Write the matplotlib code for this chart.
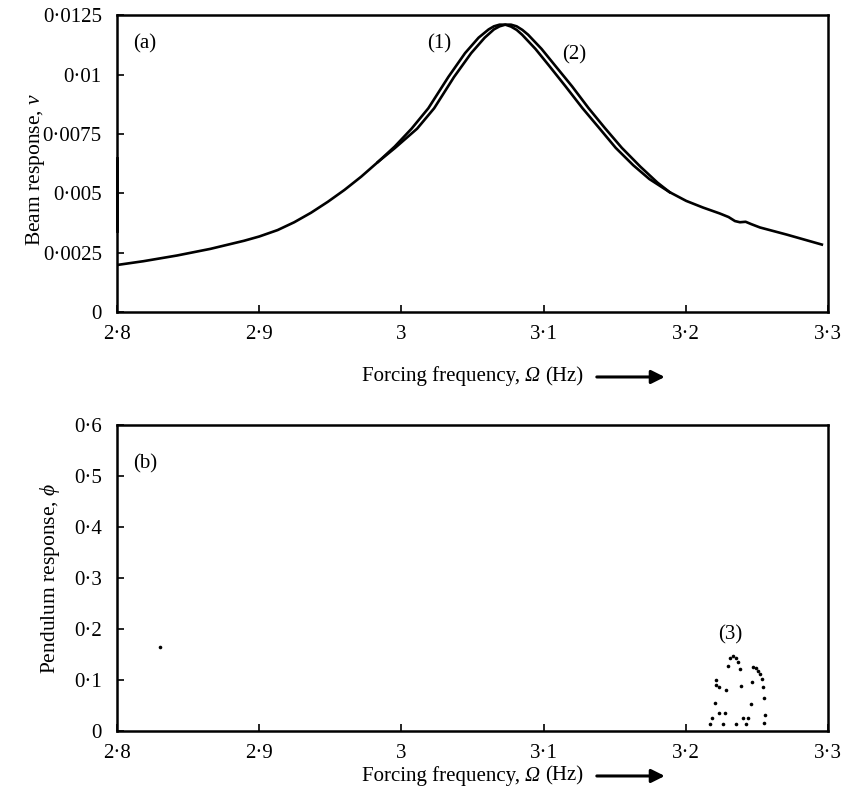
import numpy as np
import matplotlib
matplotlib.use('Agg')
import matplotlib.pyplot as plt
from matplotlib.offsetbox import TextArea, HPacker, AnchoredOffsetbox
from matplotlib.patches import FancyArrowPatch

plt.rcParams['font.family'] = ['Liberation Serif', 'DejaVu Serif']
plt.rcParams['mathtext.fontset'] = 'custom'
plt.rcParams['mathtext.rm'] = 'Liberation Serif'
plt.rcParams['mathtext.it'] = 'Liberation Serif:italic'

# curve (1): beam response, sweep one way
freq_1 = [2.800, 2.8186, 2.8422, 2.8657, 2.8893, 2.9000, 2.9129, 2.9246, 2.9364,
          2.9482, 2.9599, 2.9717, 2.9835, 2.9953, 3.0071, 3.0189, 3.0330, 3.0447,
          3.0542, 3.0613, 3.0650, 3.0690, 3.0730, 3.0770, 3.0810, 3.0848, 3.0942,
          3.1037, 3.1154, 3.1272, 3.1390, 3.1507, 3.1630, 3.1743, 3.1885, 3.2002,
          3.2120, 3.2238, 3.2300, 3.2345, 3.2380, 3.2420, 3.2460, 3.2521, 3.2709,
          3.2956]
resp_1 = [0.00198, 0.00214, 0.00238, 0.00266, 0.00300, 0.00318, 0.00345, 0.00378,
          0.00418, 0.00464, 0.00514, 0.00570, 0.00632, 0.00697, 0.00772, 0.00858,
          0.00990, 0.01090, 0.01155, 0.01190, 0.01203, 0.01210, 0.01210, 0.01202,
          0.01188, 0.01168, 0.01108, 0.01038, 0.00950, 0.00859, 0.00775, 0.00691,
          0.00618, 0.00560, 0.00505, 0.00468, 0.00440, 0.00415, 0.00400, 0.00383,
          0.00378, 0.00380, 0.00370, 0.00356, 0.00326, 0.00284]

# curve (2): other sweep, slightly shifted near the peak
freq_2 = [2.9835, 2.9953, 3.0110, 3.0230, 3.0370, 3.0490, 3.0585, 3.0650, 3.0690,
          3.0730, 3.0770, 3.0810, 3.0850, 3.0890, 3.0985, 3.1080, 3.1200, 3.1315,
          3.1430, 3.1550, 3.1680, 3.1800, 3.1885]
resp_2 = [0.00632, 0.00690, 0.00772, 0.00858, 0.00990, 0.01090, 0.01155, 0.01190,
          0.01203, 0.01210, 0.01210, 0.01203, 0.01188, 0.01168, 0.01108, 0.01038,
          0.00950, 0.00859, 0.00775, 0.00691, 0.00612, 0.00545, 0.00505]

# transient trace on the left edge
trace_f = [2.800, 2.800]
trace_v = [0.0034, 0.0065]

# pendulum response points
pend_f = [2.830, 3.2309, 3.2332, 3.2351, 3.2363, 3.2297, 3.2384, 3.2473, 3.2492,
          3.2509, 3.2521, 3.2532, 3.2214, 3.2214, 3.2233, 3.2285, 3.2391, 3.2462,
          3.2539, 3.2551, 3.2203, 3.2457, 3.2233, 3.2273, 3.2556, 3.2186, 3.2167,
          3.2261, 3.2349, 3.2403, 3.2438, 3.2422, 3.2551]
pend_v = [0.164, 0.1438, 0.1471, 0.1425, 0.1353, 0.1275, 0.1209, 0.1255, 0.1229,
          0.1176, 0.1124, 0.1013, 0.0993, 0.0902, 0.0863, 0.0797, 0.0882, 0.0967,
          0.0863, 0.0641, 0.0556, 0.0536, 0.0359, 0.0346, 0.0307, 0.0261, 0.0131,
          0.0144, 0.0144, 0.0261, 0.0261, 0.0131, 0.0163]

x_ticks = [2.8, 2.9, 3.0, 3.1, 3.2, 3.3]
x_labels = ['2·8', '2·9', '3', '3·1', '3·2', '3·3']
v_ticks = [0, 0.0025, 0.005, 0.0075, 0.01, 0.0125]
v_labels = ['0', '0·0025', '0·005', '0·0075', '0·01', '0·0125']
p_ticks = [0, 0.1, 0.2, 0.3, 0.4, 0.5, 0.6]
p_labels = ['0', '0·1', '0·2', '0·3', '0·4', '0·5', '0·6']

FS = 15

fig = plt.figure(figsize=(8.45, 7.98), dpi=100)
ax1 = fig.add_axes([0.1385, 0.609, 0.8415, 0.372])
ax2 = fig.add_axes([0.1385, 0.084, 0.8415, 0.383])


def freq_label(ax, y):
    # xlabel with italic capital omega, which mathtext won't slant
    parts = [TextArea('Forcing frequency,', textprops=dict(fontsize=FS)),
             TextArea('Ω', textprops=dict(fontsize=FS, style='italic')),
             TextArea('(Hz)', textprops=dict(fontsize=FS))]
    box = HPacker(children=parts, align='baseline', pad=0, sep=3.8)
    anc = AnchoredOffsetbox(loc='center', child=box, pad=0, frameon=False,
                            bbox_to_anchor=(0.5, y), bbox_transform=ax.transAxes,
                            borderpad=0)
    ax.add_artist(anc)


for ax in (ax1, ax2):
    for s in ax.spines.values():
        s.set_linewidth(1.8)
    ax.tick_params(direction='in', length=5, width=1.2, labelsize=FS)
    ax.tick_params(axis='x', pad=9.5)
    ax.tick_params(axis='y', pad=11)
    ax.set_xlim(2.8, 3.3)
    ax.set_xticks(x_ticks)
    ax.set_xticklabels(x_labels)

ax1.plot(freq_1, resp_1, color='black', lw=1.9)
ax1.plot(freq_2, resp_2, color='black', lw=1.9)
ax1.plot(trace_f, trace_v, color='black', lw=2.0, clip_on=False)
ax1.set_ylim(0, 0.0125)
ax1.set_yticks(v_ticks)
ax1.set_yticklabels(v_labels)
freq_label(ax1, -0.216)
ax1.set_ylabel('Beam response, $\\mathit{v}$', fontsize=15.5)
ax1.yaxis.set_label_coords(-0.114, 0.48)
ax1.yaxis.label.set_va('center')
ax1.text(0.022, 0.905, '(a)', transform=ax1.transAxes, fontsize=FS, va='center')
ax1.text(3.0177, 0.01131, '(1)', fontsize=FS, va='center')
ax1.text(3.113, 0.01083, '(2)', fontsize=FS, va='center')

ax2.plot(pend_f, pend_v, 'o', color='black', ms=2.6, mew=0)
ax2.set_ylim(0, 0.6)
ax2.set_yticks(p_ticks)
ax2.set_yticklabels(p_labels)
freq_label(ax2, -0.147)
ax2.set_ylabel('Pendulum response, $\\mathit{ϕ}$', fontsize=15.5)
ax2.yaxis.set_label_coords(-0.094, 0.5)
ax2.yaxis.label.set_va('center')
ax2.text(0.022, 0.875, '(b)', transform=ax2.transAxes, fontsize=FS, va='center')
ax2.text(3.2226, 0.189, '(3)', fontsize=FS, va='center')

# arrows after the x labels
for y in (0.5276, 0.0276):
    fig.add_artist(FancyArrowPatch(
        (0.703, y), (0.79, y), transform=fig.transFigure,
        arrowstyle='-|>', mutation_scale=20, lw=2.2, color='black'))

fig.savefig('out.png', dpi=100)
